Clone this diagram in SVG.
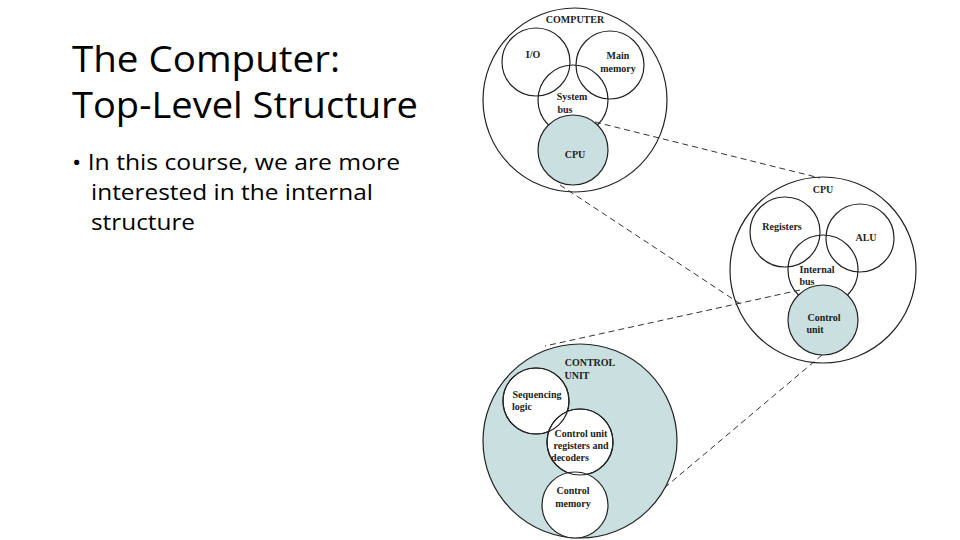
<svg xmlns="http://www.w3.org/2000/svg" width="960" height="540" viewBox="0 0 960 540">
<style>
.c{fill:none;stroke:#222;stroke-width:1.2}
.w{fill:#fff;stroke:#222;stroke-width:1.2}
.f{fill:#c9dfe0;stroke:#222;stroke-width:1.2}
.l{font-family:"Liberation Serif",serif;font-weight:bold;font-size:10px;fill:#222;text-anchor:middle}
.d{stroke:#333;stroke-width:1;stroke-dasharray:6,4;fill:none}
.h{font-family:"Open Sans","Liberation Sans",sans-serif;fill:#000}
</style>
<rect width="960" height="540" fill="#fff"/>
<text class="h" x="72" y="72" font-size="36" textLength="268" lengthAdjust="spacingAndGlyphs">The Computer:</text>
<text class="h" x="72" y="118" font-size="36" textLength="346" lengthAdjust="spacingAndGlyphs">Top-Level Structure</text>
<text class="h" x="72" y="170" font-size="22" textLength="328" lengthAdjust="spacingAndGlyphs">• In this course, we are more</text>
<text class="h" x="91" y="200" font-size="22" textLength="282" lengthAdjust="spacingAndGlyphs">interested in the internal</text>
<text class="h" x="91" y="230" font-size="22" textLength="104" lengthAdjust="spacingAndGlyphs">structure</text>
<g id="connectors">
<line class="d" x1="595" y1="122" x2="820" y2="178"/>
<line class="d" x1="560" y1="185" x2="742" y2="305"/>
<line class="d" x1="800" y1="290" x2="545" y2="346"/>
<line class="d" x1="822" y1="355" x2="650" y2="500"/>
</g>
<g id="computer">
<circle class="c" cx="575" cy="100" r="92"/>
<text class="l" x="575" y="23">COMPUTER</text>
<circle class="c" cx="536" cy="62" r="34"/><text class="l" x="533" y="58">I/O</text>
<circle class="c" cx="610" cy="65" r="34"/><text class="l" x="618" y="59">Main</text><text class="l" x="618" y="72">memory</text>
<circle class="c" cx="573" cy="100" r="35"/><text class="l" x="572" y="100">System</text><text class="l" x="565" y="113">bus</text>
<circle class="f" cx="573" cy="150" r="35"/><text class="l" x="575" y="158">CPU</text>
</g>
<g id="cpu">
<circle class="c" cx="823" cy="270" r="93"/>
<text class="l" x="823" y="193">CPU</text>
<circle class="c" cx="785" cy="232" r="35"/><text class="l" x="782" y="230">Registers</text>
<circle class="c" cx="860" cy="238" r="34"/><text class="l" x="866" y="241">ALU</text>
<circle class="c" cx="823" cy="270" r="35"/><text class="l" x="817" y="273">Internal</text><text class="l" x="807" y="285">bus</text>
<circle class="f" cx="823" cy="320" r="35"/><text class="l" x="824" y="321">Control</text><text class="l" x="815" y="333">unit</text>
</g>
<g id="controlunit">
<circle class="f" cx="580" cy="441" r="97"/>
<text class="l" x="590" y="366">CONTROL</text><text class="l" x="577" y="379">UNIT</text>
<circle class="w" cx="536" cy="401" r="33"/>
<circle class="w" cx="580" cy="442" r="33"/>
<circle class="w" cx="575" cy="505" r="33"/>
<circle class="c" cx="536" cy="401" r="33"/>
<circle class="c" cx="580" cy="442" r="33"/>
<text class="l" x="537" y="398">Sequencing</text><text class="l" x="522" y="410">logic</text>
<text class="l" x="581" y="437">Control unit</text><text class="l" x="581" y="449">registers and</text><text class="l" x="570" y="461">decoders</text>
<text class="l" x="573" y="494">Control</text><text class="l" x="573" y="507">memory</text>
</g>
</svg>
